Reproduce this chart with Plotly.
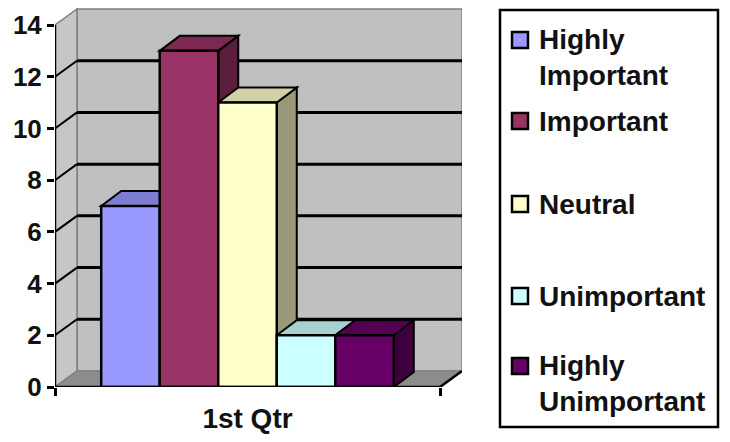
import plotly.graph_objects as go

# ---- data ----
categories = ["1st Qtr"]
series_names = ["Highly<br>Important", "Important", "Neutral", "Unimportant", "Highly<br>Unimportant"]
series_values = [7, 13, 11, 2, 2]
series_colors = ["#9999FF", "#993366", "#FFFFCC", "#CCFFFF", "#660066"]
y_ticks = [0, 2, 4, 6, 8, 10, 12, 14]

# ---- layout geometry (pixels) ----
W, H = 730, 442
PL, PR, PT, PB = 55, 462, 8, 387      # plot area box
FRONT_RIGHT = 440                      # right end of the front floor edge
Y_TOP_PX = 25                          # pixel row of the top tick
Y_MAX = y_ticks[-1]

X_PER_PX = 1.0 / (FRONT_RIGHT - PL)    # category axis spans [-0.5, 0.5] on the front plane
Y_PX_PER_UNIT = (PB - Y_TOP_PX) / Y_MAX
X_RANGE = [-0.5, -0.5 + (PR - PL) * X_PER_PX]
Y_RANGE = [0, (PB - PT) / Y_PX_PER_UNIT]

# depth of the walls and of the columns, in data units
WDX, WDY = 22 * X_PER_PX, 16 / Y_PX_PER_UNIT
BDX, BDY = 20 * X_PER_PX, 15 / Y_PX_PER_UNIT

BARGAP = 0.24
FONT = "Liberation Sans, Arial, sans-serif"
TEXT = "#111111"


def shade(hex_color, f):
    h = hex_color.lstrip("#")
    r, g, b = (int(h[i:i + 2], 16) for i in (0, 2, 4))
    return "#{:02x}{:02x}{:02x}".format(int(r * f), int(g * f), int(b * f))


def path(points):
    return "M " + " L ".join(f"{x},{y}" for x, y in points) + " Z"


def px_x(px):
    return (px - PL) / (PR - PL)


def px_y(py):
    return (PB - py) / (PB - PT)


fig = go.Figure()
for name, val, col in zip(series_names, series_values, series_colors):
    fig.add_trace(go.Bar(
        x=categories, y=[val], name=name.replace("<br>", " "),
        marker=dict(color=col, line=dict(color="black", width=2.5)),
        showlegend=False, hoverinfo="name+y",
    ))

shapes = []
wall_line = dict(color="#808080", width=1.5)
x0w, x1w = -0.5, 0.5
# back wall
shapes.append(dict(type="rect", xref="x", yref="y", layer="below",
                   x0=x0w + WDX, x1=x1w + WDX, y0=WDY, y1=Y_MAX + WDY,
                   fillcolor="#c0c0c0", line=wall_line))
# side wall
shapes.append(dict(type="path", xref="x", yref="y", layer="below",
                   path=path([(x0w, 0), (x0w, Y_MAX), (x0w + WDX, Y_MAX + WDY), (x0w + WDX, WDY)]),
                   fillcolor="#c6c6c6", line=wall_line))
# floor
shapes.append(dict(type="path", xref="x", yref="y", layer="below",
                   path=path([(x0w, 0), (x1w, 0), (x1w + WDX, WDY), (x0w + WDX, WDY)]),
                   fillcolor="#8c8c8c", line=wall_line))
# gridlines on the back wall and the side wall
for t in y_ticks[1:-1]:
    shapes.append(dict(type="line", xref="x", yref="y", layer="below",
                       x0=x0w + WDX, x1=x1w + WDX, y0=t + WDY, y1=t + WDY,
                       line=dict(color="black", width=3)))
    shapes.append(dict(type="line", xref="x", yref="y", layer="below",
                       x0=x0w, x1=x0w + WDX, y0=t, y1=t + WDY,
                       line=dict(color="black", width=2)))

# top and side faces of the columns
n = len(series_values)
bw = (1 - BARGAP) / n
for i, (val, col) in enumerate(zip(series_values, series_colors)):
    bx0 = -(1 - BARGAP) / 2 + i * bw
    bx1 = bx0 + bw
    edge = dict(color="black", width=2)
    shapes.append(dict(type="path", xref="x", yref="y", layer="below",
                       path=path([(bx1, 0), (bx1, val), (bx1 + BDX, val + BDY), (bx1 + BDX, BDY)]),
                       fillcolor=shade(col, 0.6), line=edge))
    shapes.append(dict(type="path", xref="x", yref="y", layer="below",
                       path=path([(bx0, val), (bx0 + BDX, val + BDY), (bx1 + BDX, val + BDY), (bx1, val)]),
                       fillcolor=shade(col, 0.82), line=edge))

# front axis lines
axis_line = dict(color="black", width=2.5)
shapes.append(dict(type="line", xref="x", yref="y", x0=x0w, x1=x0w, y0=0, y1=Y_MAX, line=axis_line))
shapes.append(dict(type="line", xref="x", yref="y", x0=x0w, x1=x1w, y0=0, y1=0, line=axis_line))
shapes.append(dict(type="line", xref="x", yref="y", x0=x1w, x1=x1w + WDX, y0=0, y1=WDY, line=axis_line))

# legend box
shapes.append(dict(type="rect", xref="paper", yref="paper",
                   x0=px_x(500), x1=px_x(718), y0=px_y(427), y1=px_y(10),
                   fillcolor="white", line=dict(color="black", width=2.5)))

annotations = []
key_centers = [40, 121, 204, 296, 366]
LINE_GAP = 34
for name, col, cy in zip(series_names, series_colors, key_centers):
    shapes.append(dict(type="rect", xref="paper", yref="paper",
                       x0=px_x(512), x1=px_x(528), y0=px_y(cy + 8), y1=px_y(cy - 8),
                       fillcolor=col, line=dict(color="black", width=2.5)))
    lines = name.count("<br>") + 1
    ty = cy + (lines - 1) * LINE_GAP / 2
    annotations.append(dict(xref="paper", yref="paper", x=px_x(537), y=px_y(ty),
                            xanchor="left", yanchor="middle", align="left",
                            text=name, showarrow=False,
                            font=dict(family=FONT, size=28, color=TEXT, weight="bold")))

fig.update_layout(
    width=W, height=H,
    margin=dict(l=PL, r=W - PR, t=PT, b=H - PB, pad=0),
    paper_bgcolor="white", plot_bgcolor="white",
    barmode="group", bargap=BARGAP, bargroupgap=0,
    shapes=shapes, annotations=annotations,
    xaxis=dict(type="category", range=X_RANGE, tickson="boundaries",
               ticks="outside", ticklen=8, tickwidth=2.5, tickcolor="black",
               showline=False, showgrid=False, zeroline=False, fixedrange=True,
               ticklabelstandoff=12,
               tickfont=dict(family=FONT, size=28, color=TEXT, weight="bold")),
    yaxis=dict(range=Y_RANGE, tickvals=y_ticks,
               ticks="outside", ticklen=7, tickwidth=2.5, tickcolor="black",
               showline=False, showgrid=False, zeroline=False, fixedrange=True,
               tickfont=dict(family=FONT, size=26, color=TEXT, weight="bold")),
    showlegend=False,
)

fig.write_html("out.html")
